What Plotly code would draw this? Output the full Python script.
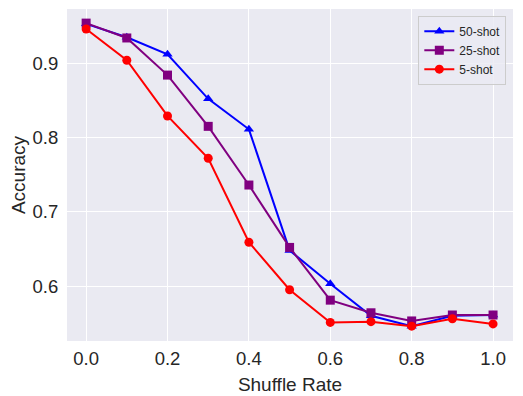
import plotly.graph_objects as go

shuffle_rate = [0.0, 0.1, 0.2, 0.3, 0.4, 0.5, 0.6, 0.7, 0.8, 0.9, 1.0]
acc_50shot = [0.953, 0.935, 0.912, 0.852, 0.811, 0.648, 0.603, 0.560, 0.546, 0.560, 0.561]
acc_25shot = [0.954, 0.934, 0.884, 0.815, 0.736, 0.652, 0.581, 0.564, 0.553, 0.561, 0.561]
acc_5shot = [0.946, 0.904, 0.829, 0.772, 0.659, 0.595, 0.551, 0.552, 0.546, 0.556, 0.549]

series = [
    ("50-shot", acc_50shot, "blue", "triangle-up"),
    ("25-shot", acc_25shot, "purple", "square"),
    ("5-shot", acc_5shot, "red", "circle"),
]

fig = go.Figure()
for name, ys, color, symbol in series:
    fig.add_trace(
        go.Scatter(
            x=shuffle_rate,
            y=ys,
            mode="lines+markers",
            name=name,
            line=dict(color=color, width=2),
            marker=dict(color=color, symbol=symbol, size=9),
        )
    )

# the page body has an 8px margin, so the figure is a bit smaller than the window
fig.update_layout(
    width=515,
    height=388,
    margin=dict(l=59, r=10, t=1, b=55, autoexpand=False),
    paper_bgcolor="white",
    plot_bgcolor="#eaeaf2",
    font=dict(family="Liberation Sans, Arial, sans-serif", color="#262626"),
    legend=dict(
        x=0.985, y=0.98, xanchor="right", yanchor="top",
        bgcolor="rgba(234,234,242,0.8)",
        bordercolor="#cccccc", borderwidth=1,
        font=dict(size=12),
        tracegroupgap=0,
    ),
    xaxis=dict(
        title=dict(text="Shuffle Rate", font=dict(size=19), standoff=9),
        range=[-0.047, 1.049],
        tickvals=[0.0, 0.2, 0.4, 0.6, 0.8, 1.0],
        ticktext=["0.0", "0.2", "0.4", "0.6", "0.8", "1.0"],
        tickfont=dict(size=18.5),
        ticks="outside", ticklen=1, tickcolor="rgba(0,0,0,0)",
        gridcolor="white", gridwidth=1.2,
        zeroline=False, showline=False, automargin=False,
    ),
    yaxis=dict(
        title=dict(text="Accuracy", font=dict(size=19), standoff=12),
        range=[0.526, 0.973],
        tickvals=[0.6, 0.7, 0.8, 0.9],
        ticktext=["0.6", "0.7", "0.8", "0.9"],
        tickfont=dict(size=18.5),
        ticks="outside", ticklen=4, tickcolor="rgba(0,0,0,0)",
        gridcolor="white", gridwidth=1.2,
        zeroline=False, showline=False, automargin=False,
    ),
)

fig.write_html("out.html")
